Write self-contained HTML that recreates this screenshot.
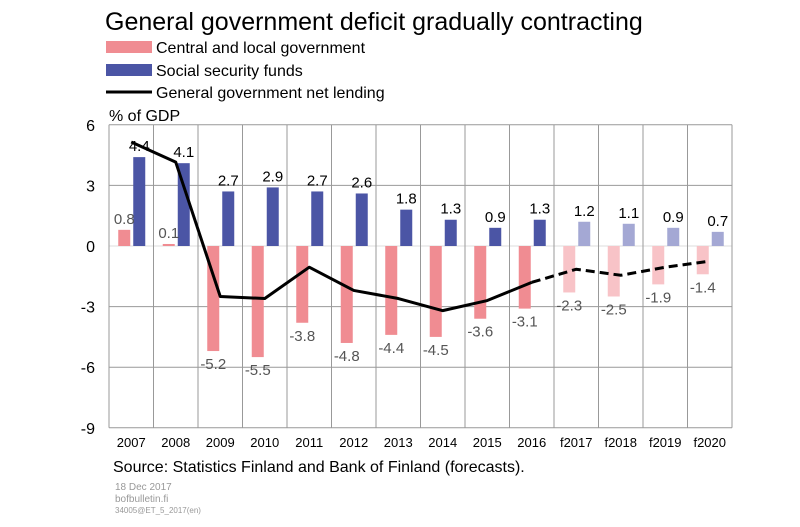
<!DOCTYPE html>
<html><head><meta charset="utf-8"><style>
body{margin:0;background:#fff;font-family:"Liberation Sans",Arial,sans-serif}
svg text{font-family:"Liberation Sans",Arial,sans-serif}
</style></head><body>
<svg id="c" width="800" height="522" viewBox="0 0 800 522">
<text x="105" y="30" font-size="25" fill="#000">General government deficit gradually contracting</text>
<g>
<rect x="106" y="41" width="46" height="12" fill="#f08c92"/>
<text x="156" y="53" font-size="16">Central and local government</text>
<rect x="106" y="64" width="46" height="12" fill="#4b55a5"/>
<text x="156" y="76" font-size="16">Social security funds</text>
<line x1="106" y1="92" x2="152" y2="92" stroke="#000" stroke-width="3"/>
<text x="156" y="98" font-size="16">General government net lending</text>
</g>
<text x="109" y="121" font-size="16">% of GDP</text>
<g id="plot"></g>
<text x="113" y="472" font-size="16">Source: Statistics Finland and Bank of Finland (forecasts).</text>
<text x="115" y="490" font-size="10" fill="#999">18 Dec 2017</text>
<text x="115" y="502" font-size="10" fill="#999">bofbulletin.fi</text>
<text x="115" y="513" font-size="8" fill="#999">34005@ET_5_2017(en)</text>
</svg>
<script>
const categories=["2007","2008","2009","2010","2011","2012","2013","2014","2015","2016","f2017","f2018","f2019","f2020"];
const central=[0.8,0.1,-5.2,-5.5,-3.8,-4.8,-4.4,-4.5,-3.6,-3.1,-2.3,-2.5,-1.9,-1.4];
const social=[4.4,4.1,2.7,2.9,2.7,2.6,1.8,1.3,0.9,1.3,1.2,1.1,0.9,0.7];
const net=[5.15,4.15,-2.5,-2.6,-1.05,-2.2,-2.6,-3.2,-2.7,-1.8,-1.15,-1.45,-1.05,-0.75];
const yTicks=[6,3,0,-3,-6,-9];
const forecastStart=10;
const NS="http://www.w3.org/2000/svg";
const g=document.getElementById('plot');
const X0=109,X1=732,cw=(X1-X0)/categories.length;
const y=v=>246-(v)*20.2;
const cx=i=>X0+cw*(i+0.5);
function mk(t,a,p){const e=document.createElementNS(NS,t);for(const k in a)e.setAttribute(k,a[k]);(p||g).appendChild(e);return e;}
yTicks.forEach(t=>{
 const l=mk('line',{x1:X0,x2:X1,y1:y(t),y2:y(t),stroke:t===0?'#ddd':'#999','stroke-width':1});
 
 
 const tx=mk('text',{x:X0-14,y:y(t)+6,'font-size':16,'text-anchor':'end'});tx.textContent=t;
 
 
});
for(let i=0;i<=categories.length;i++){
 const l=mk('line',{x1:X0+cw*i,x2:X0+cw*i,y1:y(6),y2:y(-9),stroke:'#999','stroke-width':1});
 
 
}
categories.forEach((c,i)=>{
 const f=i>=forecastStart;
 const v=central[i],s=social[i],x=cx(i);
 const r=mk('rect',{x:x-13,width:12,y:Math.min(y(v),y(0)),height:Math.abs(y(v)-y(0)),fill:f?'#f8c3c7':'#f08c92'});
 
 
 const b=mk('rect',{x:x+2,width:12,y:Math.min(y(s),y(0)),height:Math.abs(y(s)-y(0)),fill:f?'#a4a8d4':'#4b55a5'});
 
 
});
const solid=net.slice(0,forecastStart).map((v,i)=>cx(i)+','+y(v)).join(' ');
const dash=net.slice(forecastStart-1).map((v,j)=>cx(j+forecastStart-1)+','+y(v)).join(' ');
const p1=mk('polyline',{points:solid,fill:'none',stroke:'#000','stroke-width':3,'stroke-linejoin':'round'});


const p2=mk('polyline',{points:dash,fill:'none',stroke:'#000','stroke-width':3,'stroke-dasharray':'9,5'});


categories.forEach((c,i)=>{
 const v=central[i],s=social[i],x=cx(i);
 const t1=mk('text',{x:x-7,y:v>=0?y(v)-6:y(v)+18,'font-size':15,fill:'#555','text-anchor':'middle'});t1.textContent=v.toFixed(1);
 
 
 const t2=mk('text',{x:x+8,y:y(s)-6,'font-size':15,fill:'#000','text-anchor':'middle'});t2.textContent=s.toFixed(1);
 
 
 const xl=mk('text',{x:x,y:447,'font-size':13,'text-anchor':'middle'});xl.textContent=c;
 
 
});
</script>
</body></html>
